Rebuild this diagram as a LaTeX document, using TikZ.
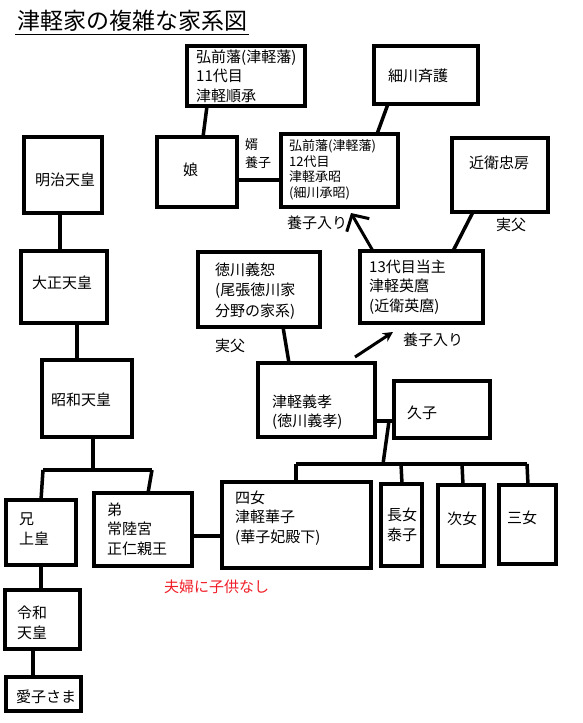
\documentclass[tikz,border=0pt]{standalone}
\usepackage{fontspec}
\setmainfont{Noto Sans CJK JP}
\usetikzlibrary{arrows.meta,calc}
\definecolor{kred}{RGB}{240,30,40}
\begin{document}
\begin{tikzpicture}[x=1pt,y=-1pt,
  box/.style={draw, line width=3.5pt, inner sep=0pt, outer sep=0pt, anchor=north west},
  link/.style={line width=3.5pt},
  txt/.style={inner sep=0pt, align=left, anchor=west, font=\fontsize{15pt}{19.5pt}\selectfont},
  small/.style={font=\fontsize{13pt}{15.5pt}\selectfont},
  wide/.style={font=\fontsize{15pt}{20.5pt}\selectfont}]
\fill[white] (0,0) rectangle (583,723);
\useasboundingbox (0,0) rectangle (583,723);

% title
\node[txt, font=\fontsize{23pt}{26pt}\selectfont] (title) at (17,21) {津軽家の複雑な家系図};
\draw[line width=1pt] ($(title.south west)+(-2,3)$) -- ($(title.south east)+(2,3)$);

% boxes
\node[box, minimum width=118pt, minimum height=60pt] (b11) at (187,46) {};
\node[box, minimum width=104pt, minimum height=58pt] (hoso) at (374,46) {};
\node[box, minimum width=80pt, minimum height=70pt] (musume) at (157,137) {};
\node[box, minimum width=117pt, minimum height=73pt] (b12) at (281,134) {};
\node[box, minimum width=96pt, minimum height=74pt] (konoe) at (452,138) {};
\node[box, minimum width=123pt, minimum height=72pt] (b13) at (360,251) {};
\node[box, minimum width=122pt, minimum height=75pt] (toku) at (198,252) {};
\node[box, minimum width=117pt, minimum height=74pt] (yoshitaka) at (258,363) {};
\node[box, minimum width=96pt, minimum height=57pt] (hisako) at (394,381) {};
\node[box, minimum width=149pt, minimum height=86pt] (hanako) at (222,482) {};
\node[box, minimum width=41pt, minimum height=82pt] (chojo) at (381,484) {};
\node[box, minimum width=46pt, minimum height=81pt] (jijo) at (438,485) {};
\node[box, minimum width=57pt, minimum height=79pt] (sanjo) at (499,485) {};
\node[box, minimum width=78pt, minimum height=76pt] (meiji) at (24,137) {};
\node[box, minimum width=86pt, minimum height=72pt] (taisho) at (21,251) {};
\node[box, minimum width=90pt, minimum height=77pt] (showa) at (42,360) {};
\node[box, minimum width=70pt, minimum height=65pt] (ani) at (6,500) {};
\node[box, minimum width=98pt, minimum height=73pt] (otouto) at (94,493) {};
\node[box, minimum width=75pt, minimum height=59pt] (reiwa) at (5,590) {};
\node[box, minimum width=75pt, minimum height=34pt] (aiko) at (6,677) {};

% texts
\node[txt] (t11) at (196,76) {弘前藩(津軽藩)\\11代目\\津軽順承};
\node[txt] (thoso) at (388,76) {細川斉護};
\node[txt] (tmusume) at (183,170) {娘};
\node[txt,small] (t12) at (289,170) {弘前藩(津軽藩)\\12代目\\津軽承昭\\(細川承昭)};
\node[txt,font=\fontsize{13pt}{18pt}\selectfont] (tmuko) at (245,154) {婿\\養子};
\node[txt] (tkonoe) at (469,163) {近衛忠房};
\node[txt] (tjitsu1) at (496,225) {実父};
\node[txt] (yoshi1) at (287,223) {養子入り};
\node[txt] (t13) at (369,287) {13代目当主\\津軽英麿\\(近衛英麿)};
\node[txt,wide] (ttoku) at (215,291) {徳川義恕\\(尾張徳川家\\分野の家系)};
\node[txt] (tjitsu2) at (215,346) {実父};
\node[txt] (yoshi2) at (403,340) {養子入り};
\node[txt] (tyoshitaka) at (272,412) {津軽義孝\\(徳川義孝)};
\node[txt] (thisa) at (407,413) {久子};
\node[txt] (thana) at (235,518) {四女\\津軽華子\\(華子妃殿下)};
\node[txt] (tcho) at (387,525) {長女\\泰子};
\node[txt] (tji) at (447,519) {次女};
\node[txt] (tsan) at (507,518) {三女};
\node[txt] (tani) at (19,529) {兄\\上皇};
\node[txt] (toto) at (107,529) {弟\\常陸宮\\正仁親王};
\node[txt] (treiwa) at (17,623) {令和\\天皇};
\node[txt] (taiko) at (16,697) {愛子さま};
\node[txt] (tmeiji) at (35,180) {明治天皇};
\node[txt] (ttaisho) at (32,283) {大正天皇};
\node[txt] (tshowa) at (51,400) {昭和天皇};
\node[txt, text=kred] (tred) at (164,587) {夫婦に子供なし};

% connectors (upper right)
\draw[link] ($(b11.south west)+(20,0)$) -- ($(musume.north west)+(46,0)$);
\draw[link] ($(hoso.south west)+(14,0)$) -- ($(b12.north west)+(96,0)$);
\draw[link] ($(musume.south east)+(0,-27)$) -- ($(b12.south west)+(0,-27)$);
\draw[link] ($(konoe.south west)+(21,0)$) -- ($(b13.north west)+(93,0)$);
\draw[line width=3pt, -{Straight Barb[length=12pt,width=26pt,line width=3pt]}]
  ($(b13.north west)+(13,0)$) -- ($(b12.south west)+(70,6)$);
\draw[link] ($(toku.south west)+(85,0)$) -- ($(yoshitaka.north west)+(31,0)$);
\draw[line width=3pt, -{Stealth[length=10pt,width=10pt]}]
  ($(yoshitaka.north west)+(97,-6)$) -- ($(b13.south west)+(33,9)$);

% Yoshitaka & Hisako and children
\coordinate (marr) at ($(yoshitaka.south east)+(14,-16)$);
\coordinate (kbarL) at ($(hanako.north west)+(74,-18)$);
\coordinate (kbarR) at ($(sanjo.north west)+(28,-21)$);
\coordinate (kdrop) at ($(kbarL)+(87,0)$);
\draw[link] ($(yoshitaka.south east)+(0,-16)$) -- ($(hisako.south west)+(0,-17)$);
\draw[link] (marr) -- (kdrop);
\draw[link] (kbarL) -- (kbarL -| kbarR);
\draw[link] (kbarL) -- ($(hanako.north west)+(74,0)$);
\draw[link] ($(kbarL)+(105,0)$) -- ($(chojo.north west)+(21,0)$);
\draw[link] ($(kbarL)+(166,0)$) -- ($(jijo.north west)+(25,0)$);
\draw[link] ($(kbarL)+(231,0)$) -- ($(sanjo.north west)+(29,0)$);

% imperial line
\draw[link] ($(meiji.south west)+(36,0)$) -- ($(taisho.north west)+(39,0)$);
\draw[link] ($(taisho.south west)+(56,0)$) -- ($(showa.north west)+(35,0)$);
\coordinate (ibar) at ($(showa.south west)+(51,33)$);
\draw[link] ($(showa.south west)+(51,0)$) -- (ibar);
\draw[link] ($(ibar)+(-50,0)$) -- ($(ibar)+(59,0)$);
\draw[link] ($(ibar)+(-50,0)$) -- ($(ani.north west)+(35,0)$);
\draw[link] ($(ibar)+(59,0)$) -- ($(otouto.north west)+(54,0)$);
\draw[link] ($(otouto.south east)+(0,-30)$) -- ($(hanako.south west)+(0,-32)$);
\draw[link] ($(ani.south west)+(35,0)$) -- ($(reiwa.north west)+(36,0)$);
\draw[link] ($(reiwa.south west)+(28,0)$) -- ($(aiko.north west)+(27,0)$);
\end{tikzpicture}
\end{document}
